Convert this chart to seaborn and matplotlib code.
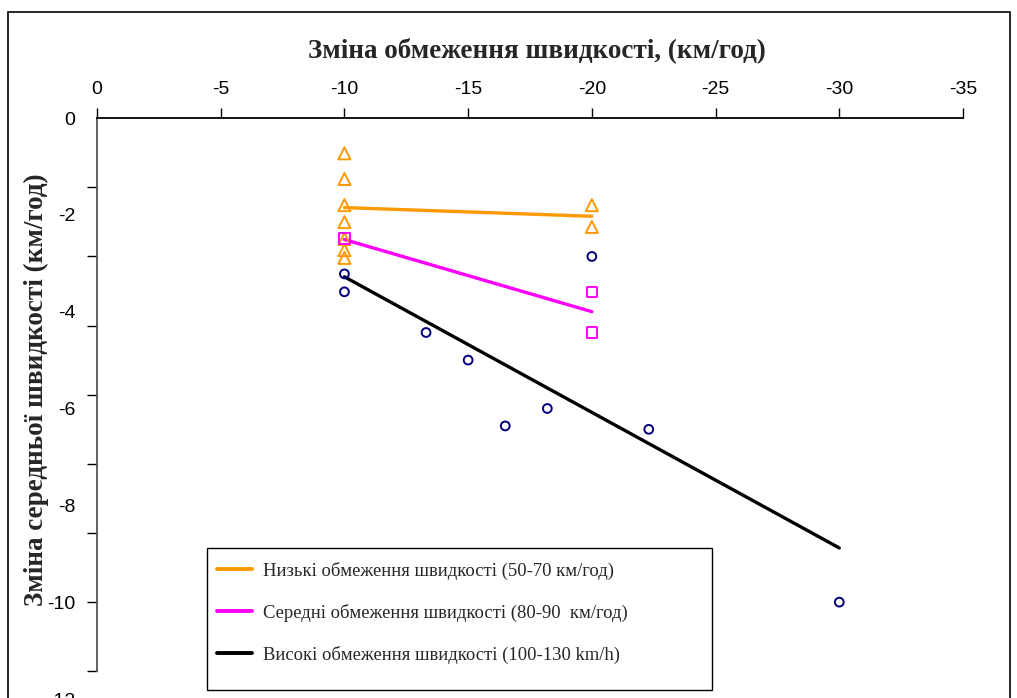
import matplotlib
matplotlib.use("Agg")
import matplotlib.pyplot as plt
import seaborn as sns
import pandas as pd
import numpy as np
from matplotlib.patches import Rectangle
from matplotlib.lines import Line2D

# ---- data ----
low_x = [-10, -10, -10, -10, -10, -10, -10, -20, -20]
low_y = [-0.73, -1.26, -1.80, -2.15, -2.50, -2.73, -2.89, -1.80, -2.25]
mid_x = [-10, -20, -20]
mid_y = [-2.49, -3.59, -4.43]
high_x = [-10, -10, -20, -13.3, -15.0, -16.5, -18.2, -22.3, -30]
high_y = [-3.22, -3.59, -2.86, -4.43, -5.0, -6.36, -6.0, -6.43, -10.0]

low_fit_x = [-10, -20]
low_fit_y = [-1.85, -2.03]
mid_fit_x = [-10, -20]
mid_fit_y = [-2.51, -4.00]
high_fit_x = [-10, -30]
high_fit_y = [-3.28, -8.88]

x_ticks = [0, -5, -10, -15, -20, -25, -30, -35]
y_ticks = [0, -2, -4, -6, -8, -10, -12]

legend_labels = ["Низькі обмеження швидкості (50-70 км/год)",
                 "Середні обмеження швидкості (80-90  км/год)",
                 "Високі обмеження швидкості (100-130 km/h)"]
xlabel = "Зміна обмеження швидкості, (км/год)"
ylabel = "Зміна середньої швидкості (км/год)"

ORANGE = "#FF9900"
MAGENTA = "#FF00FF"
NAVY = "#000080"

sns.set_theme(style="white")
plt.rcParams['font.family'] = ['Liberation Sans', 'DejaVu Sans']

W, H = 1017, 698
fig = plt.figure(figsize=(W / 100, H / 100), dpi=100)
fig.patch.set_facecolor("white")
ax = fig.add_axes([97 / W, 1 - 699 / H, 866 / W, 581 / H])
ax.set_facecolor("white")

df_low = pd.DataFrame({"x": low_x, "y": low_y})
df_mid = pd.DataFrame({"x": mid_x, "y": mid_y})
df_high = pd.DataFrame({"x": high_x, "y": high_y})

sns.lineplot(x=low_fit_x, y=low_fit_y, ax=ax, color=ORANGE, lw=2.4, zorder=2)
sns.lineplot(x=mid_fit_x, y=mid_fit_y, ax=ax, color=MAGENTA, lw=2.4, zorder=2)
sns.lineplot(x=high_fit_x, y=high_fit_y, ax=ax, color="black", lw=2.4, zorder=2)

sns.scatterplot(data=df_low, x="x", y="y", ax=ax, marker="^", s=75,
                facecolors="none", edgecolor=ORANGE, linewidth=1.4, zorder=3)
sns.scatterplot(data=df_mid, x="x", y="y", ax=ax, marker="s", s=55,
                facecolors="none", edgecolor=MAGENTA, linewidth=1.4, zorder=3)
sns.scatterplot(data=df_high, x="x", y="y", ax=ax, marker="o", s=40,
                facecolors="none", edgecolor=NAVY, linewidth=1.4, zorder=3)

ax.set_xlim(0, -35)
ax.set_ylim(-12, 0)
ax.set_xticks(x_ticks)
ax.set_xticklabels([str(v) for v in x_ticks])
ax.set_yticks(y_ticks)
ax.set_yticklabels([str(v) for v in y_ticks])
# tick marks on the left axis sit at their own spacing (as in the reference)
ax.set_yticks(list(np.linspace(0, -11.43, 9)), minor=True)
ax.set_xlabel("")
ax.set_ylabel("")
ax.xaxis.tick_top()
ax.tick_params(axis="x", direction="out", length=7, width=1, pad=7.2,
               labelsize=14, colors="black", top=True, bottom=False)
ax.tick_params(axis="y", which="major", direction="out", length=0, pad=15.5,
               labelsize=14, colors="black", left=True)
ax.tick_params(axis="y", which="minor", direction="out", length=7, width=1,
               colors="black", left=True)
for s in ["right", "bottom"]:
    ax.spines[s].set_visible(False)
ax.spines["top"].set_color("black")
ax.spines["top"].set_linewidth(1.3)
ax.spines["left"].set_color("#555555")
ax.spines["left"].set_linewidth(1.3)
ax.spines["left"].set_bounds(-11.43, 0)
ax.grid(False)

fig.text(537 / W, 1 - 50 / H, xlabel, ha="center", va="center",
         fontsize=19.5, fontweight="bold", family=["Liberation Serif"])
fig.text(36 / W, 1 - 390 / H, ylabel, ha="center", va="center", rotation=90,
         fontsize=19.5, fontweight="bold", family=["Liberation Serif"])

# figure frame
fig.patches.append(Rectangle((8 / W, -0.05), (1010 - 8) / W, 1 - 12 / H + 0.05,
                             transform=fig.transFigure, fill=False,
                             edgecolor="black", linewidth=1.2))
# legend box
fig.patches.append(Rectangle((207 / W, 1 - 690 / H), (712 - 207) / W, (690 - 548) / H,
                             transform=fig.transFigure, fill=True, facecolor="white",
                             edgecolor="black", linewidth=1.0, zorder=4))

handles = [Line2D([0], [0], color=ORANGE, lw=2.8),
           Line2D([0], [0], color=MAGENTA, lw=2.8),
           Line2D([0], [0], color="black", lw=2.8)]
leg = fig.legend(handles, legend_labels, loc="upper left",
                 bbox_to_anchor=(217 / W, 1 - 562 / H),
                 prop={"family": "Liberation Serif", "size": 13.4},
                 frameon=False, handlelength=1.9, handletextpad=0.55,
                 labelspacing=1.28, borderpad=0, borderaxespad=0)
leg.set_zorder(5)

fig.savefig("out.png", dpi=100, facecolor="white")
